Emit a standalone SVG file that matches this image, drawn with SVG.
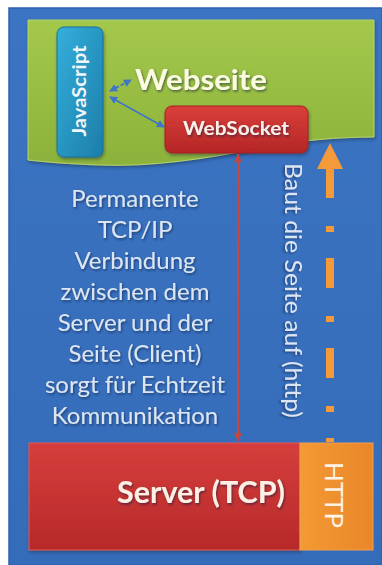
<svg xmlns="http://www.w3.org/2000/svg" width="382" height="565" viewBox="0 0 382 565">
  <style>
    .lbl { font-family: Lato, "Open Sans", "Liberation Sans", sans-serif; }
    .desc { font-size: 24px; fill: #dce6f3; text-anchor: middle; filter: url(#shadow); }
    .bold { font-weight: bold; }
  </style>
  <defs>
    <linearGradient id="gBlue" x1="0" y1="0" x2="0" y2="1">
      <stop offset="0" stop-color="#3b74c2"/>
      <stop offset="1" stop-color="#356cb9"/>
    </linearGradient>
    <linearGradient id="gGreen" x1="0" y1="0" x2="0" y2="1">
      <stop offset="0" stop-color="#a3c84b"/>
      <stop offset="1" stop-color="#8db23b"/>
    </linearGradient>
    <linearGradient id="gJs" x1="0" y1="0" x2="1" y2="1">
      <stop offset="0" stop-color="#34aedb"/>
      <stop offset="1" stop-color="#1c7ea9"/>
    </linearGradient>
    <linearGradient id="gRed" x1="0" y1="0" x2="0" y2="1">
      <stop offset="0" stop-color="#da3f3a"/>
      <stop offset="1" stop-color="#b42626"/>
    </linearGradient>
    <linearGradient id="gServer" x1="0" y1="0" x2="0" y2="1">
      <stop offset="0" stop-color="#d53e3b"/>
      <stop offset="1" stop-color="#b7292a"/>
    </linearGradient>
    <linearGradient id="gOrange" x1="0" y1="0" x2="1" y2="0">
      <stop offset="0" stop-color="#f49a33"/>
      <stop offset="1" stop-color="#e9862a"/>
    </linearGradient>
    <filter id="shadow" x="-20%" y="-20%" width="140%" height="140%">
      <feDropShadow dx="1" dy="1.5" stdDeviation="1" flood-color="#0a1e40" flood-opacity="0.6"/>
    </filter>
    <filter id="boxShadow" x="-10%" y="-10%" width="130%" height="130%">
      <feDropShadow dx="1" dy="2" stdDeviation="1.5" flood-color="#1a2a40" flood-opacity="0.45"/>
    </filter>
    <marker id="redHead" viewBox="0 0 8 8" refX="8" refY="4" markerWidth="8" markerHeight="8" markerUnits="userSpaceOnUse" orient="auto-start-reverse">
      <path d="M0,0 L8,4 L0,8 z" fill="#c9463f"/>
    </marker>
    <marker id="blueHead" viewBox="0 0 8 8" refX="7" refY="4" markerWidth="8" markerHeight="8" markerUnits="userSpaceOnUse" orient="auto-start-reverse">
      <path d="M0,0 L8,4 L0,8 z" fill="#3f74c6"/>
    </marker>
    <marker id="orangeHead" viewBox="0 0 26 26" refX="1" refY="13" markerWidth="26" markerHeight="26" markerUnits="userSpaceOnUse" orient="auto-start-reverse">
      <path d="M0,0 L26,13 L0,26 z" fill="#f59a3a"/>
    </marker>
  </defs>

  <g id="background">
    <rect x="0" y="0" width="382" height="565" fill="#ffffff"/>
    <rect x="9" y="8" width="373" height="557" fill="url(#gBlue)" stroke="#2d62b0" stroke-width="1.5"/>
  </g>

  <g id="webseite">
    <path d="M28,20 H374 V137 C340,137 300,140 260,148 C205,159 150,167 100,165 C70,164 45,162 28,160 Z" fill="url(#gGreen)" stroke="#b5d36a" stroke-width="1" filter="url(#boxShadow)"/>
    <text class="lbl bold" x="135" y="90" font-size="29" fill="#fbfbe2" textLength="132" lengthAdjust="spacingAndGlyphs" filter="url(#shadow)">Webseite</text>
  </g>

  <g id="javascript">
    <rect x="57" y="27" width="46" height="130" rx="7" fill="url(#gJs)" stroke="#1b7199" stroke-width="1" filter="url(#boxShadow)"/>
    <text class="lbl bold" transform="translate(86,91) rotate(-90)" x="0" y="0" font-size="18" fill="#f2f6fa" text-anchor="middle" textLength="91" lengthAdjust="spacingAndGlyphs">JavaScript</text>
  </g>

  <g id="websocket">
    <rect x="165" y="106" width="143" height="47" rx="7" fill="url(#gRed)" stroke="#a52020" stroke-width="1" filter="url(#boxShadow)"/>
    <text class="lbl bold" x="236" y="135" font-size="18" fill="#fbf1ea" text-anchor="middle" textLength="106" lengthAdjust="spacingAndGlyphs" filter="url(#shadow)">WebSocket</text>
  </g>

  <g id="server">
    <rect x="29" y="443" width="271" height="107" fill="url(#gServer)" stroke="#e05a55" stroke-width="1" filter="url(#boxShadow)"/>
    <text class="lbl bold" x="285" y="503" font-size="30" fill="#fbefe6" text-anchor="end" textLength="168" lengthAdjust="spacingAndGlyphs" filter="url(#shadow)">Server (TCP)</text>
  </g>

  <g id="http">
    <rect x="300" y="443" width="73" height="107" fill="url(#gOrange)" stroke="#f0a050" stroke-width="1"/>
    <text class="lbl" transform="translate(325,495) rotate(90)" x="0" y="0" font-size="25" fill="#fdf3e6" text-anchor="middle" textLength="66" lengthAdjust="spacingAndGlyphs">HTTP</text>
  </g>

  <g id="label-tcp">
    <text class="lbl desc" x="135" y="207">Permanente</text>
    <text class="lbl desc" x="135" y="238">TCP/IP</text>
    <text class="lbl desc" x="135" y="269">Verbindung</text>
    <text class="lbl desc" x="135" y="300">zwischen dem</text>
    <text class="lbl desc" x="135" y="331">Server und der</text>
    <text class="lbl desc" x="135" y="362">Seite (Client)</text>
    <text class="lbl desc" x="135" y="393">sorgt für Echtzeit</text>
    <text class="lbl desc" x="135" y="424">Kommunikation</text>
  </g>

  <g id="label-http">
    <text class="lbl" transform="translate(285,163) rotate(90)" x="0" y="0" font-size="24" fill="#dce6f3" textLength="255" lengthAdjust="spacingAndGlyphs" filter="url(#shadow)">Baut die Seite auf (http)</text>
  </g>

  <g id="connectors">
    <line x1="238" y1="154" x2="238" y2="441" stroke="#c9463f" stroke-width="2" marker-start="url(#redHead)" marker-end="url(#redHead)"/>
    <line x1="330" y1="168" x2="330" y2="442" stroke="#f59a3a" stroke-width="8" stroke-dasharray="30 28 6 26" marker-start="url(#orangeHead)"/>
    <line x1="110" y1="91" x2="131" y2="80" stroke="#3f74c6" stroke-width="1.8" stroke-dasharray="4 2" marker-start="url(#blueHead)" marker-end="url(#blueHead)"/>
    <line x1="110" y1="97" x2="164" y2="127" stroke="#3f74c6" stroke-width="1.5" marker-start="url(#blueHead)" marker-end="url(#blueHead)"/>
  </g>
</svg>
